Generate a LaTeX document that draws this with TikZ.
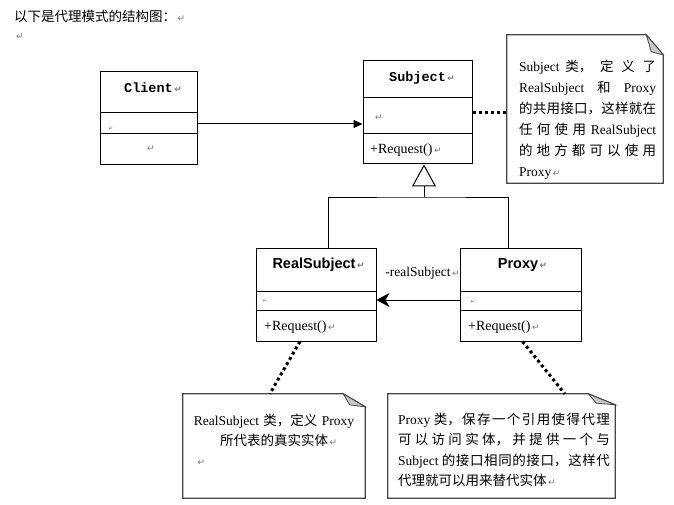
\documentclass[tikz,border=0pt]{standalone}
\usepackage{fontspec}
\setmainfont{Liberation Serif}
\newfontfamily\cjk{Noto Sans CJK SC}
\newfontfamily\clsmono{Liberation Mono}
\newfontfamily\clssans{Liberation Sans}
\newfontfamily\markfont{DejaVu Sans}
\usetikzlibrary{arrows.meta, positioning}
\definecolor{markgray}{RGB}{120,120,120}
\definecolor{foldgray}{RGB}{200,200,200}
\definecolor{notegray}{RGB}{70,70,70}
\XeTeXlinebreaklocale "zh"
\XeTeXlinebreakskip=0pt plus 4pt
\tolerance=10000
\newcommand\pmark{\rlap{\markfont\fontsize{9}{9}\selectfont\color{markgray}\,↵}}
\newcommand\tinymark{{\markfont\fontsize{5.5}{6}\selectfont\color{markgray}↵}}
\newcommand\nostretch{\XeTeXlinebreakskip=0pt\relax}

\tikzset{
  classbox/.style={draw, line width=1pt, inner sep=0pt},
  clsmononame/.style={font=\clsmono\bfseries\fontsize{13.5}{16}\selectfont, inner sep=0pt},
  clssansname/.style={font=\clssans\bfseries\fontsize{14.5}{16}\selectfont, inner sep=0pt},
  member/.style={font=\fontsize{14}{16}\selectfont, anchor=west, inner sep=0pt},
  notebox/.style={inner sep=0pt},
  notetext/.style={font=\cjk\fontsize{13.5}{21}\selectfont, inner sep=0pt, align=justify},
  dots/.style={line width=3pt, dash pattern=on 3pt off 3pt},
}

\begin{document}
\begin{tikzpicture}[x=1pt, y=-1pt]
\path[use as bounding box, fill=white] (0,0) rectangle (674,505);

\node[anchor=west, inner sep=0pt, font=\cjk\fontsize{13.5}{16}\selectfont] (title) at (14,16) {以下是代理模式的结构图：\pmark};
\node[anchor=west, inner sep=0pt] (title-gap) at (14,37) {\pmark};

% classes
\node[classbox, minimum width=97pt, minimum height=93pt] (client) at (148.5,118.5) {};
\node[classbox, minimum width=109pt, minimum height=103pt] (subject) at (417.5,112.5) {};
\node[classbox, minimum width=120pt, minimum height=93pt] (real) at (316,294.5) {};
\node[classbox, minimum width=121pt, minimum height=93pt] (proxy) at (520.5,294.5) {};
\foreach \cls/\ya/\yb in {client/113/134, subject/98/134, real/291/310, proxy/291/310}{
  \draw[line width=1pt] (\cls.west |- 0,\ya) -- (\cls.east |- 0,\ya);
  \draw[line width=1pt] (\cls.west |- 0,\yb) -- (\cls.east |- 0,\yb);
}

\node[clsmononame] (client-name) at (148.5,88) {Client\pmark};
\node[inner sep=0pt] (client-attr) at (111,129) {\tinymark};
\node[member] (client-ops) at (145,149) {\pmark};
\node[clsmononame] (subject-name) at (417.5,78) {Subject\pmark};
\node[member] (subject-attr) at (373,118) {\pmark};
\node[member] (subject-ops) at (370,150) {+Request()\pmark};
\node[clssansname] (real-name) at (314,265) {RealSubject\pmark};
\node[inner sep=0pt] (real-attr) at (265,301) {\tinymark};
\node[member] (real-ops) at (264,327) {+Request()\pmark};
\node[clssansname] (proxy-name) at (518,265) {Proxy\pmark};
\node[inner sep=0pt] (proxy-attr) at (473,302) {\tinymark};
\node[member] (proxy-ops) at (468,327) {+Request()\pmark};

% relations
\coordinate (client-out) at (client.east |- 0,124);
\draw[line width=1pt, -{Triangle[length=9pt,width=8pt]}] (client-out) -- (client-out -| subject.west);
\draw[line width=1pt, -{Stealth[length=13pt,width=14pt,inset=4pt]}] (proxy.west |- 0,300) -- (real.east |- 0,300)
  node[midway, above=20pt, inner sep=0pt, font=\fontsize{13.5}{16}\selectfont] (role) {-realSubject\pmark};
\coordinate (fork) at (424,197);
\draw[line width=1pt] (real.north -| 328,0) |- (fork) -| (proxy.north -| 508,0);
\draw[line width=1pt, -{Triangle[open,length=22pt,width=24pt]}] (fork) -- (fork |- subject.south);

% notes
\node[notebox, minimum width=156pt, minimum height=148pt] (note1) at (585,109) {};
\node[notebox, minimum width=182pt, minimum height=104pt] (note2) at (274,446) {};
\node[notebox, minimum width=227pt, minimum height=104pt] (note3) at (501.5,446) {};
\foreach \n/\fx/\fy in {note1/17/20, note2/22/13, note3/27/11}{
  \draw[notegray, line width=1.3pt] (\n.north west) -- ([xshift={-\fx}]\n.north east) -- ([yshift={-\fy}]\n.north east) -- (\n.south east) -- (\n.south west) -- cycle;
  \filldraw[fill=foldgray, draw=notegray, line width=0.8pt] ([xshift={-\fx}]\n.north east) -- ([yshift={-\fy}]\n.north east) -- ([xshift={-0.7*\fx}, yshift={-0.85*\fy}]\n.north east) -- cycle;
}

\node[notetext, text width=137pt, below right=25pt and 12pt of note1.north west] (note1-text) {\textrm{Subject} 类，定义了\linebreak \textrm{RealSubject} 和 \textrm{Proxy}\linebreak 的共用接口，这样就在\linebreak 任何使用 \textrm{RealSubject}\linebreak 的地方都可以使用\linebreak \textrm{Proxy}\pmark};
\node[notetext, font=\cjk\fontsize{13.5}{20}\selectfont, align=center, text width=176pt, below=20pt of note2.north] (note2-text) {\nostretch\textrm{RealSubject} 类，定义 \textrm{Proxy}\\所代表的真实实体\pmark\\\hbox to \hsize{\hspace*{10pt}\pmark\hfil}};
\node[notetext, font=\cjk\fontsize{13.5}{20.5}\selectfont, text width=212pt, below right=19pt and 10pt of note3.north west] (note3-text) {\textrm{Proxy} 类，保存一个引用使得代理\linebreak 可以访问实体，并提供一个与\linebreak \textrm{Subject} 的接口相同的接口，这样代\linebreak 代理就可以用来替代实体\pmark};

\draw[dots] (subject.east) -- (subject.east -| note1.west);
\draw[dots] ([xshift=-16pt]real.south) -- ([xshift=87pt]note2.north west);
\draw[dots] ([xshift=2pt]proxy.south) -- ([xshift=177pt]note3.north west);
\end{tikzpicture}
\end{document}
